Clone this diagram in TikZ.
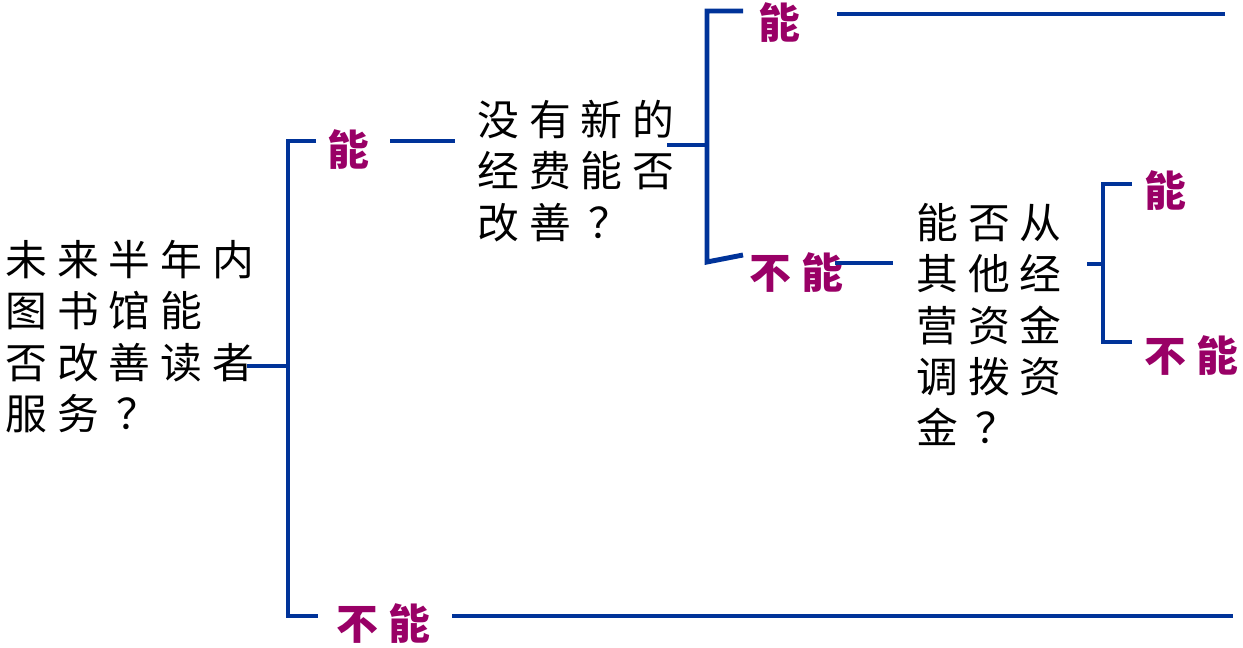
\documentclass[tikz,border=0pt]{standalone}
\usepackage{fontspec}
\newfontfamily\cjk{Noto Sans CJK SC}
\usetikzlibrary{positioning}
\definecolor{treeblue}{RGB}{0,51,153}
\definecolor{answercol}{RGB}{153,0,102}
\newcommand\treefont{\cjk\fontsize{23.8}{29.2}\selectfont\spaceskip 5.7pt\relax}

\begin{document}
\begin{tikzpicture}[x=0.02cm, y=-0.02cm,
  question/.style={anchor=north west, inner sep=0pt, align=left, font=\treefont},
  answer/.style={anchor=west, inner sep=0pt, text=answercol, font=\treefont\bfseries},
  branch/.style={draw=treeblue, line width=2.8pt}]
  \useasboundingbox (0,0) rectangle (1243,648);

  \node[question] (q0) at (5,240) {未 来 半 年 内\\图 书 馆 能\\否 改 善 读 者\\服 务 \kern4pt？};
  \node[question] (q1) at (477,100) {没 有 新 的\\经 费 能 否\\改 善 \kern4pt？};
  \node[question] (q2) at (916,203) {能 否 从\\其 他 经\\营 资 金\\调 拨 资\\金 \kern4pt？};

  \node[answer] (a1) at (327,150) {能};
  \node[answer] (a2) at (336,624) {不 能};
  \node[answer] (a3) at (758,23) {能};
  \node[answer] (a4) at (749,273) {不 能};
  \node[answer] (a5) at (1144,191) {能};
  \node[answer] (a6) at (1144,356) {不 能};

  \coordinate (s0) at (247,366);
  \coordinate (k0) at (288,366);
  \coordinate (k0a) at (316,141);
  \coordinate (k0b) at (318,616);
  \draw[branch] (s0) -- (k0);
  \draw[branch] (k0a) -| (k0) |- (k0b);
  \coordinate (e1a) at (390,141);
  \coordinate (e1b) at (455,141);
  \draw[branch] (e1a) -- (e1b);
  \coordinate (e2a) at (452,616);
  \coordinate (e2b) at (1233,616);
  \draw[branch] (e2a) -- (e2b);

  \coordinate (s1) at (667,145);
  \coordinate (k1) at (707,145);
  \coordinate (k1a) at (743,11);
  \coordinate (k1b) at (707,262);
  \coordinate (k1c) at (743,255);
  \draw[branch] (s1) -- (k1);
  \draw[branch] (k1a) -| (k1) -- (k1b) -- (k1c);
  \coordinate (e3a) at (837,14);
  \coordinate (e3b) at (1225,14);
  \draw[branch] (e3a) -- (e3b);
  \coordinate (e4a) at (835,263);
  \coordinate (e4b) at (893,263);
  \draw[branch] (e4a) -- (e4b);

  \coordinate (s2) at (1087,264);
  \coordinate (k2) at (1103,264);
  \coordinate (k2a) at (1132,184);
  \coordinate (k2b) at (1132,342);
  \draw[branch] (s2) -- (k2);
  \draw[branch] (k2a) -| (k2) |- (k2b);
\end{tikzpicture}
\end{document}
